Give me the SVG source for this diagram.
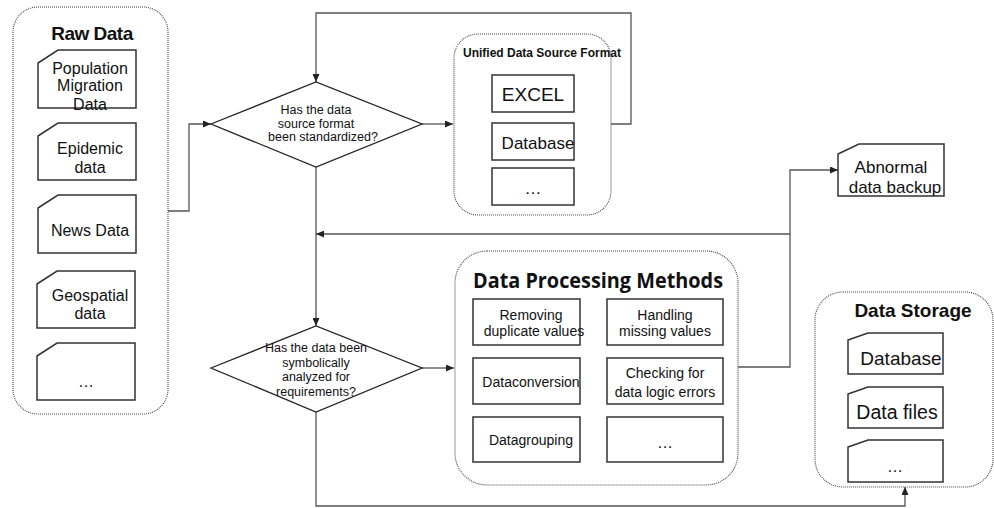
<svg xmlns="http://www.w3.org/2000/svg" width="994" height="508" viewBox="0 0 994 508">
<defs>
<marker id="arr" markerUnits="userSpaceOnUse" markerWidth="8" markerHeight="7" refX="8" refY="3.5" orient="auto">
<path d="M0,0 L8,3.5 L0,7 z" fill="#222"/>
</marker>
<style>
.cont{fill:none;stroke:#444;stroke-width:1.1;stroke-dasharray:1 1}
.box{fill:#fff;stroke:#333;stroke-width:1.5}
.dia{fill:#fff;stroke:#222;stroke-width:1.3}
.ln{fill:none;stroke:#555;stroke-width:1.3}
.t{font-family:"Liberation Sans",Arial,sans-serif;fill:#111;text-anchor:middle}
.h{font-family:"Liberation Sans",Arial,sans-serif;font-weight:bold;fill:#111;text-anchor:middle}
</style>
</defs>
<rect width="994" height="508" fill="#fff"/>

<g id="connectors">
<path class="ln" d="M168 211 H189 V124 H211" marker-end="url(#arr)"/>
<path class="ln" d="M422 124 H453" marker-end="url(#arr)"/>
<path class="ln" d="M611 124 H631 V13 H316 V82" marker-end="url(#arr)"/>
<path class="ln" d="M316 167 V326" marker-end="url(#arr)"/>
<path class="ln" d="M790 234 H316" marker-end="url(#arr)"/>
<path class="ln" d="M422 368 H454" marker-end="url(#arr)"/>
<path class="ln" d="M738 367 H790 V170 H838" marker-end="url(#arr)"/>
<path class="ln" d="M316 412 V506 H905 V487" marker-end="url(#arr)"/>
</g>

<g id="raw-data">
<rect class="cont" x="13" y="7" width="155" height="407" rx="25"/>
<text class="h" x="92" y="40" font-size="19" letter-spacing="-0.5">Raw Data</text>
<g id="population">
<path class="box" d="M38 63 L58 50 H136 V108 H38 Z"/>
<text class="t" font-size="16"><tspan x="90" y="74">Population</tspan><tspan x="90" y="91">Migration</tspan><tspan x="90" y="110">Data</tspan></text>
</g>
<g id="epidemic">
<path class="box" d="M38 136 L58 123 H136 V180 H38 Z"/>
<text class="t" font-size="16"><tspan x="90" y="154">Epidemic</tspan><tspan x="90" y="173">data</tspan></text>
</g>
<g id="news">
<path class="box" d="M38 208 L58 195 H136 V253 H38 Z"/>
<text class="t" font-size="16" x="90" y="236">News Data</text>
</g>
<g id="geospatial">
<path class="box" d="M37 284 L57 271 H135 V328 H37 Z"/>
<text class="t" font-size="16"><tspan x="90" y="301">Geospatial</tspan><tspan x="90" y="319">data</tspan></text>
</g>
<g id="raw-more">
<path class="box" d="M37 356 L57 343 H135 V400 H37 Z"/>
<text class="t" font-size="16" x="86" y="387">…</text>
</g>
</g>

<g id="decision-format">
<path class="dia" d="M211 124 L316 82 L422 124 L316 167 Z"/>
<text class="t" font-size="12.5"><tspan x="316" y="114">Has the data</tspan><tspan x="316" y="128">source format</tspan><tspan x="323" y="141">been standardized?</tspan></text>
</g>

<g id="unified-format">
<rect class="cont" x="454" y="34" width="157" height="181" rx="24"/>
<text class="h" x="542" y="57" font-size="12">Unified Data Source Format</text>
<g id="excel">
<rect class="box" x="492" y="75" width="82" height="37"/>
<text class="t" font-size="19" x="533" y="101">EXCEL</text>
</g>
<g id="uni-database">
<rect class="box" x="492" y="123" width="82" height="37"/>
<text class="t" font-size="17" x="538" y="149">Database</text>
</g>
<g id="uni-more">
<rect class="box" x="492" y="168" width="82" height="37"/>
<text class="t" font-size="17" x="533" y="194">…</text>
</g>
</g>

<g id="decision-requirements">
<path class="dia" d="M211 368 L316 326 L422 368 L316 412 Z"/>
<text class="t" font-size="12.5"><tspan x="316" y="352">Has the data been</tspan><tspan x="316" y="367">symbolically</tspan><tspan x="316" y="381">analyzed for</tspan><tspan x="316" y="396">requirements?</tspan></text>
</g>

<g id="processing-methods">
<rect class="cont" x="455" y="251" width="283" height="234" rx="32"/>
<text x="598" y="288" font-family="'Open Sans','Noto Sans',sans-serif" font-weight="bold" font-size="21" fill="#111" text-anchor="middle" textLength="250" lengthAdjust="spacingAndGlyphs">Data Processing Methods</text>
<g id="dup">
<rect class="box" x="473" y="299" width="107" height="46"/>
<text class="t" font-size="14"><tspan x="531" y="320">Removing</tspan><tspan x="534" y="336">duplicate values</tspan></text>
</g>
<g id="missing">
<rect class="box" x="607" y="299" width="116" height="46"/>
<text class="t" font-size="14"><tspan x="665" y="320">Handling</tspan><tspan x="665" y="336">missing values</tspan></text>
</g>
<g id="conversion">
<rect class="box" x="473" y="358" width="107" height="46"/>
<text class="t" font-size="14" x="531" y="387">Dataconversion</text>
</g>
<g id="logic">
<rect class="box" x="607" y="358" width="116" height="46"/>
<text class="t" font-size="14"><tspan x="665" y="378">Checking for</tspan><tspan x="665" y="397">data logic errors</tspan></text>
</g>
<g id="grouping">
<rect class="box" x="473" y="417" width="107" height="45"/>
<text class="t" font-size="14" x="531" y="445">Datagrouping</text>
</g>
<g id="proc-more">
<rect class="box" x="607" y="417" width="116" height="45"/>
<text class="t" font-size="16" x="665" y="448">…</text>
</g>
</g>

<g id="abnormal-backup">
<path class="box" d="M838 154 L859 144 H944 V196 H838 Z"/>
<text class="t" font-size="17"><tspan x="891" y="173">Abnormal</tspan><tspan x="895" y="193">data backup</tspan></text>
</g>

<g id="data-storage">
<rect class="cont" x="815" y="292" width="178" height="195" rx="28"/>
<text class="h" x="913" y="317" font-size="19">Data Storage</text>
<g id="store-database">
<path class="box" d="M848 340 L868 333 H943 V374 H848 Z"/>
<text class="t" font-size="19" x="901" y="365">Database</text>
</g>
<g id="store-files">
<path class="box" d="M848 394 L868 387 H943 V428 H848 Z"/>
<text class="t" font-size="19.5" x="897" y="419">Data files</text>
</g>
<g id="store-more">
<path class="box" d="M848 447 L868 440 H943 V482 H848 Z"/>
<text class="t" font-size="16" x="895" y="472">…</text>
</g>
</g>
</svg>
